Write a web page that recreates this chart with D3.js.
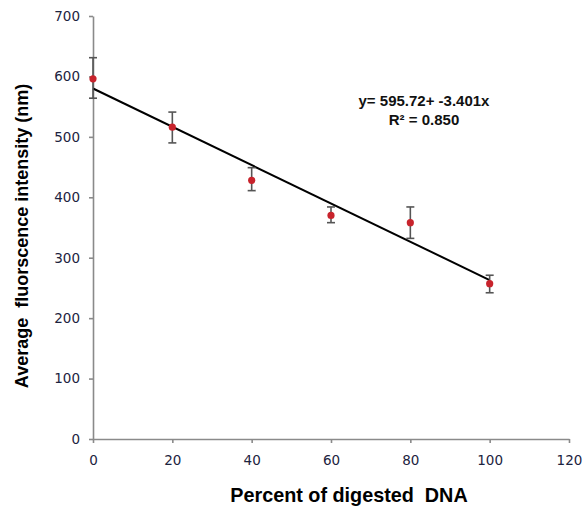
<!DOCTYPE html>
<html><head><meta charset="utf-8">
<script src="https://cdn.jsdelivr.net/npm/d3@7"></script>
<style>
html,body{margin:0;padding:0;background:#fff;}
svg{display:block;}
text{white-space:pre;}
</style>
</head><body>
<script>
const percentDigested = [0, 20, 40, 60, 80, 100];
const meanIntensity = [596, 516, 428, 370, 358, 257];
const errUpper = [631, 541, 449, 384, 384, 271];
const errLower = [564, 490, 411, 358, 332, 242];
const fitX = [0, 100];
const fitY = [580, 263];
const xTicks = [0, 20, 40, 60, 80, 100, 120];
const yTicks = [0, 100, 200, 300, 400, 500, 600, 700];
const equationLines = ["y= 595.72+ -3.401x", "R\u00b2 = 0.850"];
const xTitle = "Percent of digested  DNA";
const yTitle = "Average  fluorscence intensity (nm)";

const W = 588, H = 509;
const svg = d3.select("body").append("svg").attr("width", W).attr("height", H);

const x = d3.scaleLinear().domain([0, 120]).range([93, 569]);
const y = d3.scaleLinear().domain([0, 700]).range([439, 16]);

const axisColor = "#8a8a8a";
const labelColor = "#1c2340";

const xAxis = svg.append("g").attr("transform", `translate(0,${y(0)})`)
  .call(d3.axisBottom(x).tickValues(xTicks).tickSize(4).tickPadding(12).tickSizeOuter(0));
const yAxis = svg.append("g").attr("transform", `translate(${x(0)},0)`)
  .call(d3.axisLeft(y).tickValues(yTicks).tickSize(4).tickPadding(9).tickSizeOuter(0));
[xAxis, yAxis].forEach(a => {
  a.select(".domain").attr("stroke", axisColor).attr("stroke-width", 1.6);
  a.selectAll(".tick line").attr("stroke", axisColor).attr("stroke-width", 1.6);
  a.selectAll(".tick text").attr("fill", labelColor)
    .style("font-family", "'DejaVu Sans', Verdana, sans-serif").style("font-size", "13.5px");
});

// fit line
svg.append("line")
  .attr("x1", x(fitX[0])).attr("y1", y(fitY[0]))
  .attr("x2", x(fitX[1])).attr("y2", y(fitY[1]))
  .attr("stroke", "#000").attr("stroke-width", 2);

// error bars
const data = percentDigested.map((p, i) => ({p, m: meanIntensity[i], hi: errUpper[i], lo: errLower[i]}));
const eb = svg.append("g").attr("stroke", "#555").attr("stroke-width", 1.6);
data.forEach(d => {
  eb.append("line").attr("x1", x(d.p)).attr("x2", x(d.p)).attr("y1", y(d.hi)).attr("y2", y(d.lo));
  eb.append("line").attr("x1", x(d.p) - 4).attr("x2", x(d.p) + 4).attr("y1", y(d.hi)).attr("y2", y(d.hi));
  eb.append("line").attr("x1", x(d.p) - 4).attr("x2", x(d.p) + 4).attr("y1", y(d.lo)).attr("y2", y(d.lo));
});

svg.append("g").selectAll("circle").data(data).join("circle")
  .attr("cx", d => x(d.p)).attr("cy", d => y(d.m)).attr("r", 3.6)
  .attr("fill", "#c8232c");

// equation
svg.append("g").selectAll("text").data(equationLines).join("text")
  .attr("x", 424).attr("y", (d, i) => 106 + i * 19)
  .attr("text-anchor", "middle")
  .style("font-family", "'Liberation Sans', Arial, sans-serif")
  .style("font-weight", "bold").style("font-size", "15px").attr("fill", "#111")
  .text(d => d);

// titles
svg.append("text").attr("x", 349).attr("y", 502).attr("text-anchor", "middle")
  .style("font-family", "'Liberation Sans', Arial, sans-serif")
  .style("font-weight", "bold").style("font-size", "19.8px").attr("fill", "#000")
  .text(xTitle);
svg.append("text").attr("transform", "translate(28,236) rotate(-90)").attr("text-anchor", "middle")
  .style("font-family", "'Liberation Sans', Arial, sans-serif")
  .style("font-weight", "bold").style("font-size", "18px").attr("fill", "#000")
  .text(yTitle);
</script>
</body></html>
